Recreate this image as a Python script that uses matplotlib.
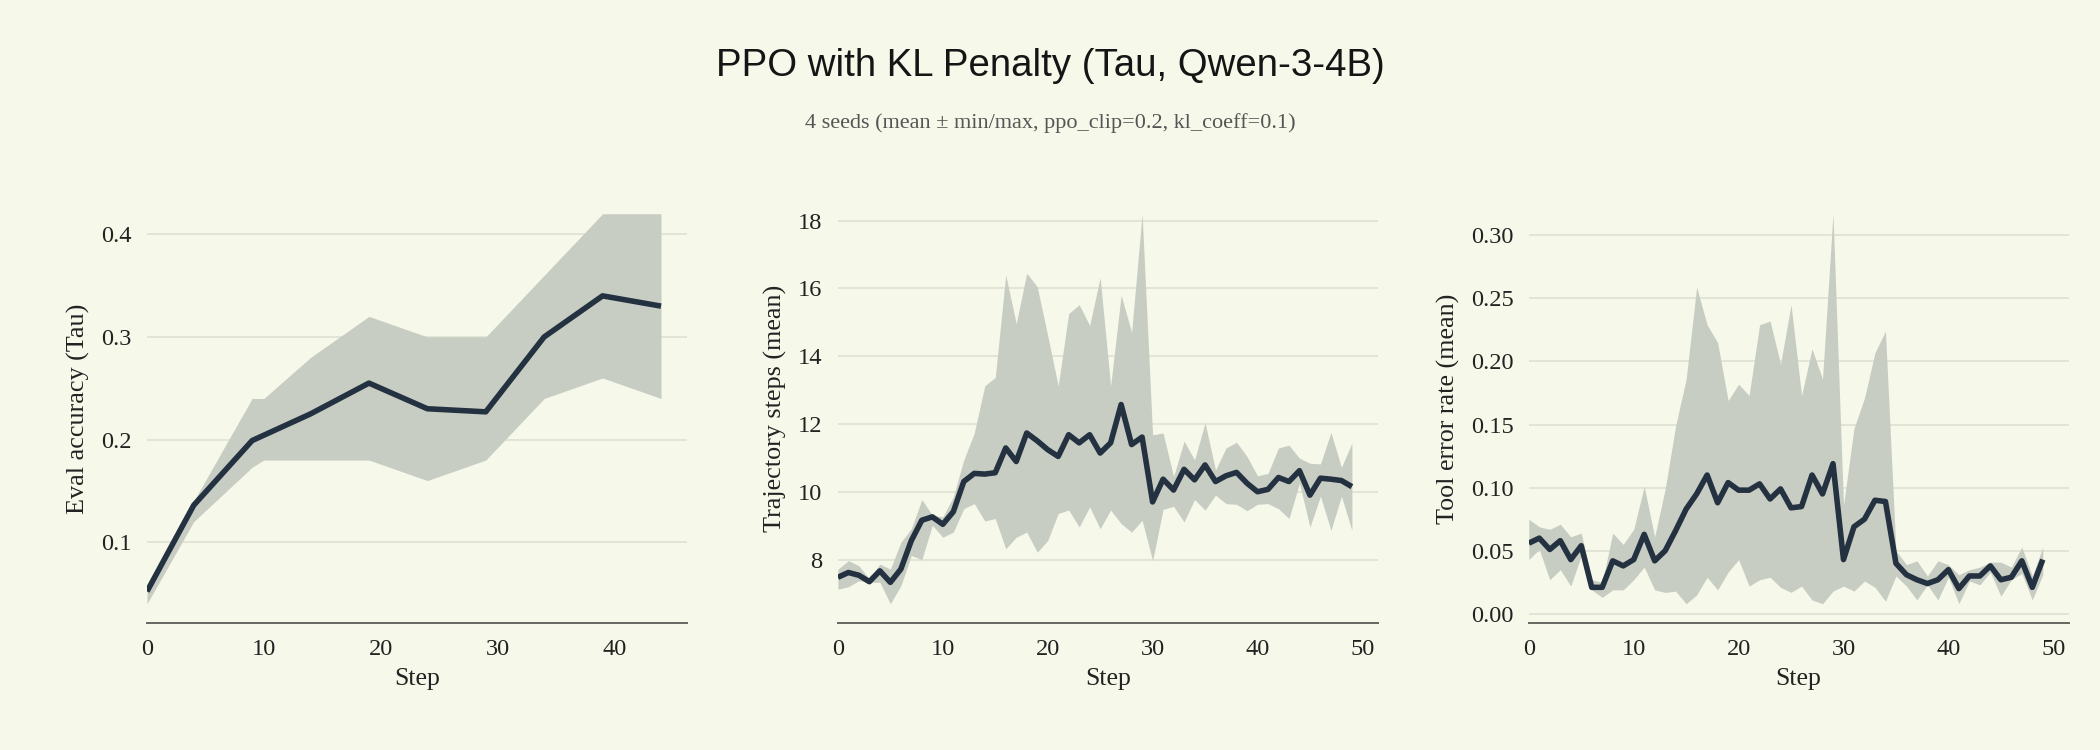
import matplotlib
matplotlib.use("Agg")
import matplotlib.pyplot as plt
import numpy as np

# ---------------- data ----------------
eval_steps = [0, 4, 9, 14, 19, 24, 29, 34, 39, 44]
eval_mean = [0.052, 0.136, 0.199, 0.225, 0.255, 0.230, 0.227, 0.300, 0.340, 0.330]
eval_band_steps = [0, 4, 9, 10, 14, 19, 24, 29, 34, 39, 44]
eval_hi = [0.057, 0.140, 0.240, 0.240, 0.280, 0.320, 0.300, 0.300, 0.360, 0.420, 0.420]
eval_lo = [0.040, 0.120, 0.173, 0.180, 0.180, 0.180, 0.160, 0.180, 0.240, 0.260, 0.240]

train_steps = list(range(50))
traj_mean = [7.49, 7.63, 7.55, 7.36, 7.68, 7.34, 7.73, 8.57, 9.17, 9.27,
             9.05, 9.42, 10.31, 10.55, 10.53, 10.57, 11.30, 10.90, 11.74, 11.51,
             11.25, 11.05, 11.69, 11.45, 11.69, 11.15, 11.45, 12.58, 11.40, 11.62,
             9.71, 10.38, 10.06, 10.67, 10.36, 10.80, 10.31, 10.48, 10.58, 10.26,
             10.01, 10.08, 10.43, 10.31, 10.63, 9.91, 10.41, 10.38, 10.34, 10.16]
traj_hi = [7.73, 7.98, 7.83, 7.44, 7.88, 7.73, 8.52, 8.92, 9.78, 9.32,
           9.27, 9.86, 10.95, 11.74, 13.13, 13.38, 16.40, 14.96, 16.45, 16.05,
           14.61, 13.13, 15.26, 15.52, 14.91, 16.32, 13.13, 15.80, 14.71, 18.20,
           11.69, 11.74, 10.46, 11.50, 10.95, 12.04, 10.65, 11.30, 11.47, 11.05,
           10.48, 10.55, 11.30, 11.38, 11.00, 10.85, 10.83, 11.76, 10.73, 11.45]
traj_lo = [7.14, 7.21, 7.39, 7.34, 7.34, 6.71, 7.24, 8.13, 8.01, 9.02,
           8.67, 8.82, 9.51, 9.66, 9.15, 9.22, 8.33, 8.67, 8.82, 8.23,
           8.57, 9.37, 9.47, 8.97, 9.56, 8.92, 9.47, 9.07, 8.82, 9.17,
           7.98, 9.49, 9.58, 9.12, 9.78, 9.47, 9.91, 9.66, 9.64, 9.45,
           9.64, 9.66, 9.51, 9.22, 10.26, 8.97, 9.88, 8.87, 9.88, 8.87]

err_mean = [0.056, 0.060, 0.051, 0.058, 0.043, 0.054, 0.021, 0.021, 0.042, 0.038,
            0.043, 0.063, 0.042, 0.050, 0.066, 0.083, 0.095, 0.110, 0.088, 0.104,
            0.098, 0.098, 0.103, 0.091, 0.099, 0.084, 0.085, 0.110, 0.095, 0.119,
            0.043, 0.069, 0.075, 0.090, 0.089, 0.040, 0.031, 0.027, 0.024, 0.027,
            0.035, 0.020, 0.030, 0.030, 0.038, 0.027, 0.029, 0.042, 0.021, 0.043]
err_hi = [0.075, 0.069, 0.067, 0.071, 0.061, 0.064, 0.027, 0.025, 0.064, 0.055,
          0.067, 0.101, 0.061, 0.099, 0.149, 0.186, 0.259, 0.229, 0.215, 0.169,
          0.182, 0.173, 0.229, 0.232, 0.198, 0.245, 0.173, 0.210, 0.186, 0.317,
          0.086, 0.147, 0.171, 0.207, 0.224, 0.050, 0.039, 0.042, 0.030, 0.042,
          0.039, 0.031, 0.035, 0.037, 0.041, 0.041, 0.037, 0.053, 0.030, 0.053]
err_lo = [0.043, 0.051, 0.027, 0.035, 0.022, 0.046, 0.019, 0.013, 0.019, 0.019,
          0.027, 0.037, 0.019, 0.017, 0.018, 0.008, 0.015, 0.029, 0.019, 0.033,
          0.043, 0.022, 0.027, 0.029, 0.021, 0.017, 0.022, 0.011, 0.008, 0.018,
          0.022, 0.018, 0.026, 0.021, 0.010, 0.030, 0.022, 0.011, 0.023, 0.011,
          0.029, 0.008, 0.026, 0.023, 0.033, 0.014, 0.027, 0.032, 0.011, 0.031]

title = "PPO with KL Penalty (Tau, Qwen-3-4B)"
subtitle = "4 seeds (mean \u00b1 min/max, ppo_clip=0.2, kl_coeff=0.1)"
ylabels = ["Eval accuracy (Tau)", "Trajectory steps (mean)", "Tool error rate (mean)"]
xlabel = "Step"

# ---------------- style ----------------
BG = "#f6f8e9"
BAND = "#c8cdc4"
LINE = "#243140"
GRID = "#e2e4d5"
SPINE = "#666660"
TXT = "#222222"
SERIF = ["Liberation Serif", "DejaVu Serif"]

plt.rcParams["font.family"] = SERIF

fig = plt.figure(figsize=(10.5, 3.75), dpi=200, facecolor=BG)

lefts = [0.070, 0.399, 0.728]
width = 0.257
bottom, height = 0.169, 0.572

panels = [
    (eval_steps, eval_mean, eval_band_steps, eval_lo, eval_hi, [0.1, 0.2, 0.3, 0.4], "{:.1f}"),
    (train_steps, traj_mean, train_steps, traj_lo, traj_hi, [8, 10, 12, 14, 16, 18], "{:.0f}"),
    (train_steps, err_mean, train_steps, err_lo, err_hi, [0.0, 0.05, 0.10, 0.15, 0.20, 0.25, 0.30], "{:.2f}"),
]

for i, (xs, ym, bx, lo, hi, yt, fmt) in enumerate(panels):
    ax = fig.add_axes([lefts[i], bottom, width, height])
    ax.set_facecolor(BG)
    ax.fill_between(bx, lo, hi, color=BAND, linewidth=0, zorder=2)
    ax.plot(xs, ym, color=LINE, linewidth=2.0, solid_capstyle="butt", zorder=3)
    ax.set_xlim(left=0)
    ax.set_yticks(yt)
    ax.set_yticklabels([fmt.format(v) for v in yt])
    ax.grid(axis="y", color=GRID, linewidth=0.7, zorder=1)
    ax.grid(axis="x", visible=False)
    ax.set_axisbelow(True)
    for s in ["top", "right", "left"]:
        ax.spines[s].set_visible(False)
    ax.spines["bottom"].set_color(SPINE)
    ax.spines["bottom"].set_linewidth(0.7)
    ax.tick_params(axis="both", length=0, labelsize=8.8, colors=TXT, pad=5.5)
    ax.set_xticks([t for t in range(0, 60, 10) if t <= max(xs) * 1.05])
    ax.set_xlabel(xlabel, fontsize=9.3, color=TXT, labelpad=3)
    ax.set_ylabel(ylabels[i], fontsize=9.4, color=TXT, labelpad=4)

fig.text(0.5, 0.912, title, ha="center", va="center", fontsize=13.8,
         family=["Liberation Sans", "DejaVu Sans"], color="#151515")
fig.text(0.5, 0.836, subtitle, ha="center", va="center", fontsize=8.0,
         color="#555555")

fig.savefig("out.png", dpi=200, facecolor=BG)
